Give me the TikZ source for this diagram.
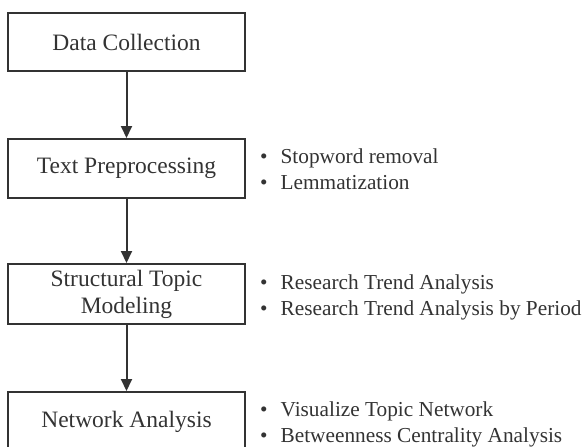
\documentclass[tikz,border=0pt]{standalone}
\usepackage{fontspec}
\setmainfont{Liberation Serif}
\usetikzlibrary{arrows.meta}
\definecolor{ink}{HTML}{333333}
\tikzset{
  stepbox/.style={draw=ink, line width=2pt, minimum width=237pt, text=ink,
    font=\fontsize{23.5}{27}\selectfont, align=center, inner sep=0pt},
  flow/.style={draw=ink, line width=2pt, -{Triangle[length=12pt,width=11pt]}},
  bullets/.style={anchor=west, text=ink, font=\fontsize{21.3}{26.5}\selectfont, inner sep=0pt}
}
\begin{document}
\begin{tikzpicture}[x=1pt,y=-1pt]
\useasboundingbox (0,0) rectangle (584,447);
\node[stepbox, minimum height=58pt] (dc) at (126.5,42) {Data Collection};
\node[stepbox, minimum height=59pt] (tp) at (126.5,168.5) {Text Preprocessing};
\node[stepbox, minimum height=60pt] (stm) at (126.5,294) {Structural Topic\\Modeling};
\node[stepbox, minimum height=60pt] (na) at (126.5,422) {Network Analysis};
\draw[flow] (dc) -- (tp);
\draw[flow] (tp) -- (stm);
\draw[flow] (stm) -- (na);
\node[bullets] (b1) at (260,171) {\begin{tabular}{@{}l@{\hspace{13pt}}l@{}}•&Stopword removal\\•&Lemmatization\end{tabular}};
\node[bullets] (b2) at (260,297) {\begin{tabular}{@{}l@{\hspace{13pt}}l@{}}•&Research Trend Analysis\\•&Research Trend Analysis by Period\end{tabular}};
\node[bullets] (b3) at (260,424) {\begin{tabular}{@{}l@{\hspace{13pt}}l@{}}•&Visualize Topic Network\\•&Betweenness Centrality Analysis\end{tabular}};
\end{tikzpicture}
\end{document}
